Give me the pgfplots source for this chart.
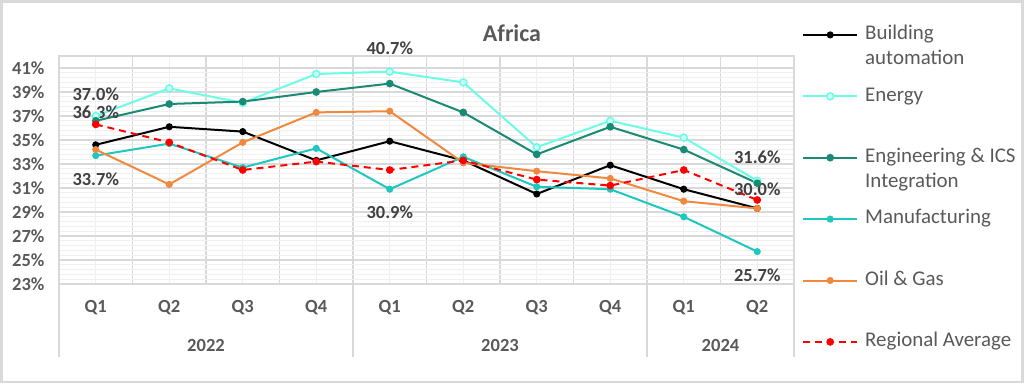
\documentclass[border=0pt]{standalone}
\usepackage{pgfplots}
\pgfplotsset{compat=1.18}
\usepackage{fontspec}
\setmainfont{Carlito}
\definecolor{txt}{HTML}{595959}
\definecolor{lbl}{HTML}{404040}
\definecolor{en}{HTML}{6CFCE6}
\definecolor{eng}{HTML}{1B8A75}
\definecolor{man}{HTML}{1FC8BF}
\definecolor{oil}{HTML}{F0893E}
\definecolor{avg}{HTML}{FF0000}
\definecolor{gmaj}{HTML}{D9D9D9}
\definecolor{gmin}{HTML}{F0F0F0}
\tikzset{dlab/.style={font=\bfseries\fontsize{18.5}{20}\selectfont, text=lbl, inner sep=0pt}}
\newcommand{\two}[2]{\begin{tabular}[t]{@{}l@{}}#1\\#2\end{tabular}}
\begin{document}
\begin{tikzpicture}[x=1bp,y=1bp]
\useasboundingbox (0,0) rectangle (1024,383);
\draw[gmaj, line width=2.5bp] (1.25,1.25) rectangle (1022.5,381.5);
\node[font=\bfseries\fontsize{24}{28}\selectfont, text=txt] at (512,350) {Africa};
\begin{axis}[
  at={(59bp,99bp)}, anchor=south west,
  scale only axis, width=735bp, height=228bp,
  xmin=-0.5, xmax=9.5, ymin=23, ymax=42,
  clip=false,
  xtick={0,...,9},
  xticklabels={Q1,Q2,Q3,Q4,Q1,Q2,Q3,Q4,Q1,Q2},
  minor xtick={-0.5,0.5,...,9.5},
  ytick={23,25,...,41},
  minor y tick num=4,
  major tick length=0pt, minor tick length=0pt,
  grid=both,
  major x grid style={gmin, line width=1.3bp},
  minor x grid style={gmaj, line width=1.5bp},
  major y grid style={gmaj, line width=1.5bp},
  minor y grid style={gmin, line width=1bp},
  axis line style={gmaj, line width=1.5bp},
  /pgf/number format/assume math mode=true,
  yticklabel={\pgfmathprintnumber{\tick}\%},
  ticklabel style={font=\bfseries\fontsize{18.6}{20}\selectfont, text=txt},
  yticklabel style={xshift=-11bp},
  xticklabel style={yshift=-13bp},
  legend cell align=left,
  legend style={at={(rel axis cs:1,1)}, anchor=north west, xshift=8bp, yshift=52bp,
    draw=none, fill=none, font=\fontsize{21}{25}\selectfont, text=txt,
    row sep=0pt, inner sep=0pt,
    nodes={inner xsep=7bp, inner ysep=0pt, text height=35.5bp, text depth=25.9bp}},
  legend image code/.code={\draw[mark repeat=2, mark phase=2, #1] plot coordinates {(0bp,0bp) (27bp,0bp) (54bp,0bp)};},
  every axis plot/.append style={line width=2bp},
]
\addplot[black, mark=*, mark size=2.5bp] coordinates {
 (0,34.6) (1,36.1) (2,35.7) (3,33.3) (4,34.9) (5,33.3) (6,30.5) (7,32.9) (8,30.9) (9,29.3)};
\addlegendentry{\two{Building}{automation}}
\addplot[en, mark=*, mark size=3.5bp, mark options={fill=en!35!white, draw=en, line width=1.5bp}] coordinates {
 (0,37.0) (1,39.3) (2,38.1) (3,40.5) (4,40.7) (5,39.8) (6,34.4) (7,36.6) (8,35.2) (9,31.6)};
\addlegendentry{Energy}
\addplot[eng, mark=*, mark size=2.8bp] coordinates {
 (0,36.6) (1,38.0) (2,38.2) (3,39.0) (4,39.7) (5,37.3) (6,33.8) (7,36.1) (8,34.2) (9,31.4)};
\addlegendentry{\two{Engineering \& ICS}{Integration}}
\addplot[man, mark=*, mark size=2.5bp] coordinates {
 (0,33.7) (1,34.7) (2,32.7) (3,34.3) (4,30.9) (5,33.6) (6,31.1) (7,30.9) (8,28.6) (9,25.7)};
\addlegendentry{Manufacturing}
\addplot[oil, mark=*, mark size=2.5bp] coordinates {
 (0,34.2) (1,31.3) (2,34.8) (3,37.3) (4,37.4) (5,33.1) (6,32.4) (7,31.8) (8,29.9) (9,29.3)};
\addlegendentry{Oil \& Gas}
\addplot[avg, dashed, dash pattern=on 7bp off 5bp, mark=*, mark size=2.8bp, mark options={solid}] coordinates {
 (0,36.3) (1,34.8) (2,32.5) (3,33.2) (4,32.5) (5,33.3) (6,31.7) (7,31.2) (8,32.5) (9,30.0)};
\addlegendentry{Regional Average}
% data labels
\node[dlab, yshift=22bp] at (axis cs:0,37.0) {37.0\%};
\node[dlab, yshift=12bp] at (axis cs:0,36.3) {36.3\%};
\node[dlab, yshift=-24bp] at (axis cs:0,33.7) {33.7\%};
\node[dlab, yshift=23bp] at (axis cs:4,40.7) {40.7\%};
\node[dlab, yshift=-23bp] at (axis cs:4,30.9) {30.9\%};
\node[dlab, yshift=24bp] at (axis cs:9,31.6) {31.6\%};
\node[dlab, yshift=11bp] at (axis cs:9,30.0) {30.0\%};
\node[dlab, yshift=-24bp] at (axis cs:9,25.7) {25.7\%};
% category separators and years
\draw[gmaj, line width=1.5bp] (axis cs:-0.5,23) -- ([yshift=-73bp]axis cs:-0.5,23);
\draw[gmaj, line width=1.5bp] (axis cs:3.5,23) -- ([yshift=-73bp]axis cs:3.5,23);
\draw[gmaj, line width=1.5bp] (axis cs:7.5,23) -- ([yshift=-73bp]axis cs:7.5,23);
\draw[gmaj, line width=1.5bp] (axis cs:9.5,23) -- ([yshift=-73bp]axis cs:9.5,23);
\node[font=\bfseries\fontsize{18.6}{20}\selectfont, text=txt, yshift=-61bp] at (axis cs:1.5,23) {2022};
\node[font=\bfseries\fontsize{18.6}{20}\selectfont, text=txt, yshift=-61bp] at (axis cs:5.5,23) {2023};
\node[font=\bfseries\fontsize{18.6}{20}\selectfont, text=txt, yshift=-61bp] at (axis cs:8.5,23) {2024};
\end{axis}
\end{tikzpicture}
\end{document}
